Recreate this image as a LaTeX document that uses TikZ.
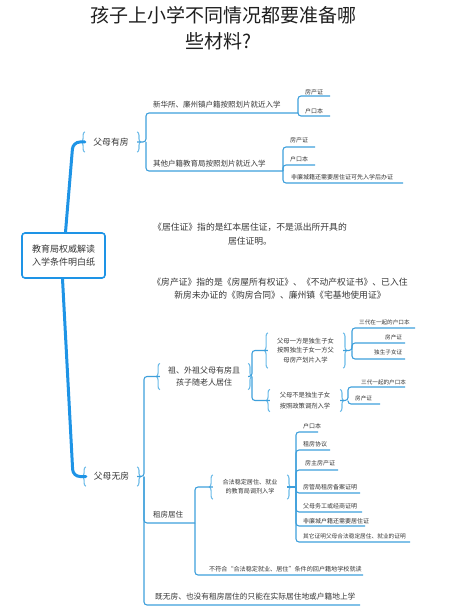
\documentclass[tikz,border=0pt]{standalone}
\usepackage{fontspec}
\setmainfont{Noto Sans CJK SC}
\usetikzlibrary{decorations.pathreplacing}
\definecolor{mainblue}{HTML}{1E94E6}
\definecolor{thinblue}{HTML}{3E9FDB}
\definecolor{brblue}{HTML}{6CBBE8}
\definecolor{txtgray}{HTML}{363636}
\newcommand{\fsz}[1]{\fontsize{#1}{#1}\selectfont}
\begin{document}
\begin{tikzpicture}[x=1pt,y=-1pt,
  every node/.style={inner sep=0pt,text=txtgray},
  mainline/.style={draw=mainblue,line width=3pt,line cap=round,rounded corners=7pt},
  thinline/.style={draw=thinblue,line width=1.1pt,rounded corners=3pt},
  lbr/.style={draw=brblue,line width=1.1pt,decorate,decoration={brace,amplitude=3.5pt}},
  bnode/.style={align=center},
  leaf/.style={anchor=west,font=\fsz{6}},
  branch/.style={anchor=west,font=\fsz{7.5}},
  note/.style={align=center}]
\useasboundingbox (0,0) rectangle (463,609);

% title
\node[font=\fsz{19},text=black!88] (t1) at (223,15) {孩子上小学不同情况都要准备哪};
\node[font=\fsz{19},text=black!88] (t2) at (218,41) {些材料?};

% root
\node[draw=mainblue,line width=1.6pt,rounded corners=3pt,fill=white,minimum width=83pt,minimum height=45pt,align=center,font=\fontsize{9}{13.5}\selectfont] (root) at (63.5,255.5) {教育局权威解读\\入学条件明白纸};

% level-1 nodes
\node[bnode,minimum width=52pt,minimum height=20pt,font=\fsz{8.8}] (p1) at (111,142) {父母有房};
\node[bnode,minimum width=51pt,minimum height=19pt,font=\fsz{8.8}] (p2) at (111.5,476.5) {父母无房};
\foreach \n in {p1,p2}{
  \draw[lbr] (\n.south west) -- (\n.north west);
  \draw[lbr] (\n.north east) -- (\n.south east);
}
\draw[mainline] ([xshift=2pt]root.north) -- (73,142) -- (p1.west);
\draw[mainline] ([xshift=-1pt]root.south) -- (73,476.5) -- (p2.west);

% ---- 父母有房 ----
\coordinate (j1) at (146,142);
\coordinate (ja) at (298,113);
\coordinate (jb) at (283,171);
\draw[thinline] (p1.east) -- (j1) |- (ja);
\draw[thinline] (j1) |- (jb);
\node[branch] (a) at (153,105) {新华所、廉州镇户籍按照划片就近入学};
\node[branch] (b) at (153,164) {其他户籍教育局按照划片就近入学};
\node[leaf] (a1) at (305,92) {房产证};
\node[leaf] (a2) at (305,111) {户口本};
\draw[thinline] (ja) |- (330,96);
\draw[thinline] (ja) |- (330,116);
\node[leaf] (b1) at (290,140) {房产证};
\node[leaf] (b2) at (290,159) {户口本};
\node[leaf] (b3) at (291,177) {非廉城籍还需要居住证可先入学后办证};
\draw[thinline] (jb) |- (315,147);
\draw[thinline] (jb) |- (315,165);
\draw[thinline] (jb) |- (403,183);

% notes
\node[note,font=\fontsize{8.8}{14}\selectfont] (n1) at (250,234) {《居住证》指的是红本居住证，不是派出所开具的\\居住证明。};
\node[note,font=\fontsize{8.8}{13}\selectfont] (n2) at (280,288.5) {《房产证》指的是《房屋所有权证》、《不动产权证书》、已入住\\新房未办证的《购房合同》、廉州镇《宅基地使用证》};

% ---- 父母无房 ----
\node[bnode,minimum width=88pt,minimum height=26pt,font=\fontsize{8}{12}\selectfont] (g) at (204,376.5) {祖、外祖父母有房且\\孩子随老人居住};
\node[bnode,minimum width=75pt,minimum height=35pt,font=\fontsize{6.3}{9.5}\selectfont] (s1) at (305.5,350.5) {父母一方是独生子女\\按照独生子女一方父\\母房产划片入学};
\node[bnode,minimum width=70pt,minimum height=22pt,font=\fontsize{6.3}{11}\selectfont] (s2) at (305,400.5) {父母不是独生子女\\按照政策调剂入学};
\node[bnode,minimum width=74pt,minimum height=24pt,font=\fontsize{6.1}{9}\selectfont] (h) at (250,487) {合法稳定居住、就业\\的教育局调剂入学};
\foreach \n in {g,s1,s2,h}{
  \draw[lbr] (\n.south west) -- (\n.north west);
  \draw[lbr] (\n.north east) -- (\n.south east);
}

\coordinate (j2) at (144,476.5);
\coordinate (jr) at (195,523);
\draw[thinline] (p2.east) -- (j2) |- (g.west);
\draw[thinline] (j2) |- (jr);
\draw[thinline] (j2) |- (360,605);
\node[font=\fsz{7.5}] (r) at (168,515) {租房居住};
\node[anchor=west,font=\fsz{7.7}] (c) at (155,597) {既无房、也没有租房居住的只能在实际居住地或户籍地上学};

% grandparents
\coordinate (jg) at (252,376.5);
\draw[thinline] (g.east) -- (jg) |- (s1.west);
\draw[thinline] (jg) |- (s2.west);
\coordinate (js1) at (352,350.5);
\draw[thinline] (s1.east) -- (js1) |- (415,328);
\draw[thinline] (js1) |- (405,343);
\draw[thinline] (js1) |- (405,359);
\node[leaf,font=\fsz{5.6}] (s11) at (359,322) {三代在一起的户口本};
\node[leaf,font=\fsz{5.6}] (s12) at (385,337) {房产证};
\node[leaf,font=\fsz{5.6}] (s13) at (374,352) {独生子女证};
\coordinate (js2) at (348,400.5);
\draw[thinline] (s2.east) -- (js2) |- (405,387);
\draw[thinline] (js2) |- (380,404);
\node[leaf,font=\fsz{5.6}] (s21) at (361,382) {三代一起的户口本};
\node[leaf,font=\fsz{5.6}] (s22) at (355,398) {房产证};

% renting
\draw[thinline] (jr) |- (h.west);
\draw[thinline] (jr) |- (363,575);
\node[anchor=west,font=\fsz{6.1}] (d) at (209,569) {不符合“合法稳定就业、居住”条件的回户籍地学校就读};
\coordinate (jh) at (296,487);
\draw[thinline] (h.east) -- (jh);
\draw[thinline] (jh) |- (318,432);
\draw[thinline] (jh) |- (330,450);
\draw[thinline] (jh) |- (338,470);
\draw[thinline] (jh) |- (360,493);
\draw[thinline] (jh) |- (362,512);
\draw[thinline] (jh) |- (365,526);
\draw[thinline] (jh) |- (410,542);
\node[leaf] (h1) at (303,426) {户口本};
\node[leaf] (h2) at (303,444) {租房协议};
\node[leaf] (h3) at (305,463) {房主房产证};
\node[leaf] (h4) at (303,487) {房管局租房备案证明};
\node[leaf] (h5) at (303,506) {父母务工或经商证明};
\node[leaf] (h6) at (303,521) {非廉城户籍还需要居住证};
\node[leaf,font=\fsz{5.7}] (h7) at (303,536) {其它证明父母合法稳定居住、就业的证明};
\end{tikzpicture}
\end{document}
